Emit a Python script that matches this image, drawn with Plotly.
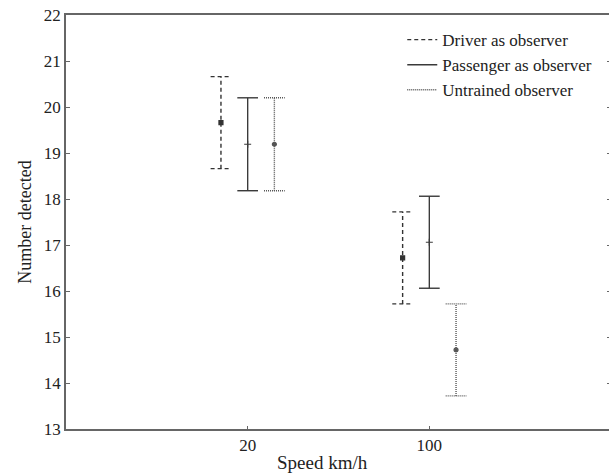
import plotly.graph_objects as go

speeds = ["20", "100"]
series_names = ["Driver as observer", "Passenger as observer", "Untrained observer"]
means = {
    "Driver as observer": [19.66, 16.72],
    "Passenger as observer": [19.19, 17.06],
    "Untrained observer": [19.19, 14.72],
}
errors = {
    "Driver as observer": [1.0, 1.0],
    "Passenger as observer": [1.01, 1.0],
    "Untrained observer": [1.01, 1.0],
}
y_ticks = [13, 14, 15, 16, 17, 18, 19, 20, 21, 22]

offsets = {"Driver as observer": -0.147, "Passenger as observer": 0.0, "Untrained observer": 0.147}
styles = {
    "Driver as observer": dict(dash="4px,3px", color="#333333", symbol="square", msize=4),
    "Passenger as observer": dict(dash="solid", color="#3a3a3a", symbol="cross-thin", msize=5),
    "Untrained observer": dict(dash="1px,1px", color="#555555", symbol="circle", msize=4),
}
cap = 0.057

fig = go.Figure()
for name in series_names:
    st = styles[name]
    xs, ys = [], []
    for i, (m, e) in enumerate(zip(means[name], errors[name])):
        xc = i + offsets[name]
        lo, hi = m - e, m + e
        xs += [xc, xc, None, xc - cap, xc + cap, None, xc - cap, xc + cap, None]
        ys += [lo, hi, None, hi, hi, None, lo, lo, None]
    fig.add_trace(go.Scatter(
        x=xs, y=ys, mode="lines", name=name, showlegend=True,
        line=dict(color=st["color"], width=1.4, dash=st["dash"]),
        hoverinfo="skip",
    ))
    fig.add_trace(go.Scatter(
        x=[i + offsets[name] for i in range(len(speeds))], y=means[name],
        mode="markers", showlegend=False,
        marker=dict(symbol=st["symbol"], size=st["msize"], color=st["color"],
                    line=dict(color=st["color"], width=1.2)),
    ))

axis_color = "#666666"
font = dict(family="Liberation Serif, Times New Roman, serif", size=17, color="#222222")
fig.update_layout(
    width=611, height=475,
    margin=dict(l=66, r=0, t=15, b=46, autoexpand=False),
    paper_bgcolor="white", plot_bgcolor="white",
    font=font,
    showlegend=True,
    legend=dict(x=0.617, y=0.983, xanchor="left", yanchor="top",
                bgcolor="rgba(0,0,0,0)", font=dict(size=17),
                itemwidth=30, tracegroupgap=0),
    xaxis=dict(
        range=[-1, 2], tickmode="array", tickvals=list(range(len(speeds))), ticktext=speeds,
        showgrid=False, zeroline=False, showline=True, linecolor=axis_color, linewidth=1.5,
        mirror=True, ticks="inside", ticklen=3, tickcolor=axis_color,
        tickfont=dict(size=17), ticklabeloverflow="allow",
    ),
    yaxis=dict(
        range=[13, 22], tickmode="array", tickvals=y_ticks,
        showgrid=False, zeroline=False, showline=True, linecolor=axis_color, linewidth=1.5,
        mirror="ticks", ticks="inside", ticklen=4, tickcolor=axis_color,
        tickfont=dict(size=17), ticklabeloverflow="allow",
        title=dict(text="Number detected", standoff=8, font=dict(size=18)),
    ),
    annotations=[dict(text="Speed km/h", xref="paper", yref="paper", x=0.47, y=-0.05,
                      xanchor="center", yanchor="top", showarrow=False,
                      font=dict(size=19))],
)

fig.write_html("out.html", config={"displayModeBar": False},
               post_script="document.body.style.margin='0';document.body.style.overflow='hidden';")
